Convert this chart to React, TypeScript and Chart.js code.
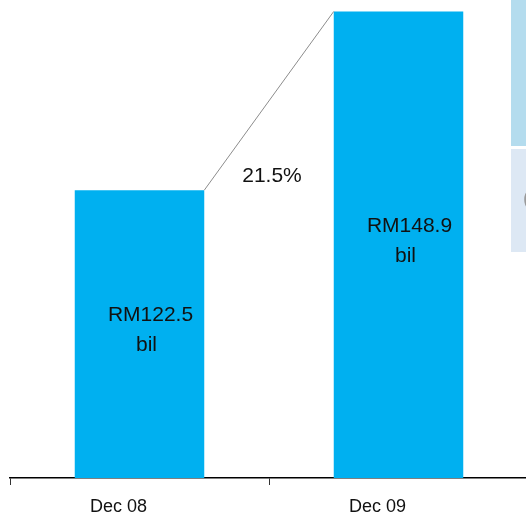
import { useEffect, useRef } from "react";
import { Chart, registerables } from "chart.js";

Chart.register(...registerables);

const categories = ["Dec 08", "Dec 09"];
const values = [122.5, 148.9];
const unitLabel = "bil";
const growthLabel = "21.5%";
const yMin = 80;
const yMax = 150;

const FONT = "'Liberation Sans', Arial, sans-serif";
const BAR_COLOR = "#00B0F0";

// Draws the connector between the bar tops, the growth figure and the in-bar value labels.
const annotatePlugin = {
  id: "annotate",
  afterDatasetsDraw(chart: any) {
    const ctx = chart.ctx as CanvasRenderingContext2D;
    const bars = chart.getDatasetMeta(0).data as any[];
    if (bars.length < 2) return;
    const base = chart.chartArea.bottom;
    const [a, b] = bars;
    const aRight = a.x + a.width / 2;
    const bLeft = b.x - b.width / 2;

    ctx.save();
    ctx.strokeStyle = "#8c8c8c";
    ctx.lineWidth = 1;
    ctx.beginPath();
    ctx.moveTo(aRight, a.y);
    ctx.lineTo(bLeft, b.y);
    ctx.stroke();

    ctx.font = `21px ${FONT}`;
    ctx.fillStyle = "#111";
    ctx.textAlign = "center";
    ctx.textBaseline = "middle";
    ctx.fillText(growthLabel, (aRight + bLeft) / 2 + 3, a.y - 14);

    bars.forEach((bar: any, i: number) => {
      const mid = (bar.y + base) / 2;
      ctx.fillText(`RM${values[i].toFixed(1)}`, bar.x + 11, mid - 19);
      ctx.fillText(unitLabel, bar.x + 7, mid + 11);
    });
    ctx.restore();
  },
};

export default function App() {
  const canvasRef = useRef<HTMLCanvasElement | null>(null);

  useEffect(() => {
    if (!canvasRef.current) return;
    const chart = new Chart(canvasRef.current, {
      type: "bar",
      data: {
        labels: categories,
        datasets: [
          {
            data: values,
            backgroundColor: BAR_COLOR,
            borderWidth: 0,
            barPercentage: 1,
            categoryPercentage: 0.5,
          },
        ],
      },
      options: {
        animation: false,
        responsive: false,
        maintainAspectRatio: false,
        layout: { padding: { top: 4, left: 10, right: 2, bottom: 0 } },
        plugins: {
          legend: { display: false },
          tooltip: { enabled: false },
        },
        scales: {
          x: {
            offset: true,
            grid: {
              display: true,
              drawOnChartArea: false,
              drawTicks: true,
              tickLength: 7,
              color: "#333",
              lineWidth: 1,
              offset: true,
            },
            border: { display: true, color: "#000", width: 1.5 },
            ticks: {
              color: "#111",
              padding: 13,
              labelOffset: -21,
              font: { family: FONT, size: 18, lineHeight: 1 },
            },
          },
          y: { display: false, min: yMin, max: yMax },
        },
      },
      plugins: [annotatePlugin],
    });
    return () => chart.destroy();
  }, []);

  return (
    <div
      style={{
        position: "fixed",
        top: 0,
        left: 0,
        width: 526,
        height: 514,
        overflow: "hidden",
        background: "#fff",
      }}
    >
      <canvas ref={canvasRef} width={530} height={529} style={{ display: "block" }} />
      <div
        style={{
          position: "absolute",
          left: 511,
          top: 0,
          width: 20,
          height: 146,
          background: "#b4dcee",
        }}
      />
      <div
        style={{
          position: "absolute",
          left: 511,
          top: 149,
          width: 20,
          height: 103,
          background: "#dde8f4",
          overflow: "hidden",
        }}
      >
        <span
          style={{
            position: "absolute",
            left: 12,
            top: 38,
            font: `20px ${FONT}`,
            color: "#9a9a9a",
            whiteSpace: "nowrap",
          }}
        >
          (
        </span>
      </div>
    </div>
  );
}
